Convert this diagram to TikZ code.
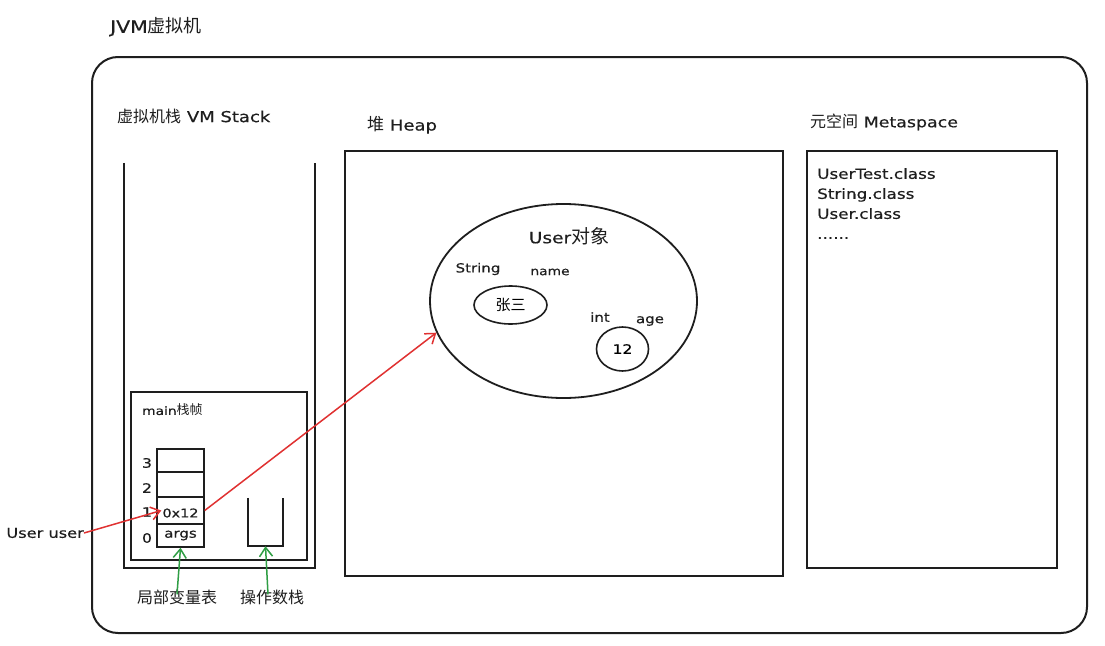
\documentclass[tikz,border=0pt]{standalone}
\usepackage{fontspec}
\setmainfont{DejaVu Sans}[FakeStretch=1.2, FakeBold=0.4]
\newfontfamily\cjk{Noto Sans CJK SC}
\usetikzlibrary{arrows.meta,shapes.geometric}
\definecolor{redc}{HTML}{E03131}
\definecolor{greenc}{HTML}{2F9E44}
\definecolor{inkc}{HTML}{1E1E1E}
\newcommand{\fs}[1]{\fontsize{#1}{#1}\selectfont}
\tikzset{
  box/.style={draw=inkc, line width=1.6pt, inner sep=0pt},
  lbl/.style={inner sep=0pt, text=inkc},
  cell/.style={draw=inkc, line width=1.4pt, minimum width=47pt, inner sep=0pt},
  redarrow/.style={draw=redc, line width=1.5pt, -{Straight Barb[length=9pt,width=13pt]}},
  greenarrow/.style={draw=greenc, line width=1.5pt, -{Straight Barb[length=9pt,width=13pt]}},
}
\begin{document}
\begin{tikzpicture}[x=1pt,y=-1pt]
\useasboundingbox (0,0) rectangle (1105,645);
\fill[white] (0,0) rectangle (1105,645);

% title and outer box
\node[lbl, anchor=west] (title) at (110,27) {\fs{17}JVM{\cjk\fs{18}虚拟机}};
\node[box, line width=2pt, rounded corners=26pt, minimum width=995pt, minimum height=576pt] (jvm) at (589.5,345) {};

% VM stack
\node[lbl, anchor=west] (stacktitle) at (117,116) {{\cjk\fs{16}虚拟机栈}\fs{15} VM Stack};
\node[inner sep=0pt, minimum width=191pt, minimum height=405pt] (vmstack) at (219.5,365.5) {};
\draw[inkc, line width=1.6pt] (vmstack.north west) -- (vmstack.south west) -- (vmstack.south east) -- (vmstack.north east);

\node[box, minimum width=176pt, minimum height=168pt] (frame) at (219,476) {};
\node[lbl, anchor=west] (frametitle) at (142,410) {\fs{11.5}main{\cjk\fs{13}栈帧}};

\node[cell, minimum height=23pt] (row3) at (180.5,460.5) {};
\node[cell, minimum height=25pt] (row2) at (180.5,484.5) {};
\node[cell, minimum height=27pt] (row1) at (180.5,510.5) {};
\node[cell, minimum height=23pt] (row0) at (180.5,535.5) {};
\node[lbl, font=\fs{12}] (v1) at ([yshift=-2.5pt]row1.center) {0x12};
\node[lbl, font=\fs{12.5}] (v0) at ([yshift=0pt]row0.center) {args};
\foreach \n/\y in {3/463,2/488,1/512,0/538}
  \node[lbl, font=\fs{13}] (idx\n) at (147,\y) {\n};

\node[inner sep=0pt, minimum width=35pt, minimum height=48pt] (opstack) at (265.5,522) {};
\draw[inkc, line width=1.5pt] (opstack.north west) -- (opstack.south west) -- (opstack.south east) -- (opstack.north east);

\node[lbl, font=\cjk\fs{16}] (lvlabel) at (177,597) {局部变量表};
\node[lbl, font=\cjk\fs{16}] (oplabel) at (272,597) {操作数栈};
\draw[greenarrow] ([yshift=-5pt]lvlabel.north) -- (row0.south);
\draw[greenarrow] ([xshift=-4pt,yshift=-5pt]oplabel.north) -- (opstack.south);

\node[lbl, anchor=east, font=\fs{13.5}] (uservar) at (84,533) {User user};

% Heap
\node[lbl, anchor=west] (heaptitle) at (367,125) {{\cjk\fs{17}堆}\fs{15} Heap};
\node[box, minimum width=438pt, minimum height=425pt] (heap) at (564,363.5) {};
\node[draw=inkc, line width=1.8pt, ellipse, inner sep=0pt, minimum width=267pt, minimum height=194pt] (obj) at (563.5,301) {};
\node[lbl] (objtitle) at (569,236) {\fs{15.5}User{\cjk\fs{19}对象}};
\node[lbl, font=\fs{12.5}] (strtype) at (478,269) {String};
\node[lbl, font=\fs{11.5}] (strname) at (550,272) {name};
\node[draw=inkc, line width=1.6pt, ellipse, inner sep=0pt, minimum width=73pt, minimum height=38pt, font=\cjk\fs{15}] (zhang) at (510.5,305) {张三};
\node[lbl, font=\fs{12.5}] (inttype) at (600,317) {int};
\node[lbl, font=\fs{12.5}] (intname) at (650,321) {age};
\node[draw=inkc, line width=1.6pt, ellipse, inner sep=0pt, minimum width=52pt, minimum height=44pt, font=\fs{13}] (age) at (622.5,349) {12};

% Metaspace
\node[lbl, anchor=west] (metatitle) at (810,122) {{\cjk\fs{16}元空间}\fs{14.5} Metaspace};
\node[box, minimum width=250pt, minimum height=417pt] (meta) at (932,359.5) {};
\node[lbl, anchor=north west, align=left, font=\fontsize{14}{20}\selectfont] (classes) at (817,168) {UserTest.class\\String.class\\User.class\\......};

% red arrows
\draw[redarrow] (uservar.east) -- ([xshift=5pt]row1.west);
\draw[redarrow] (row1.east) -- (obj.194);
\end{tikzpicture}
\end{document}
